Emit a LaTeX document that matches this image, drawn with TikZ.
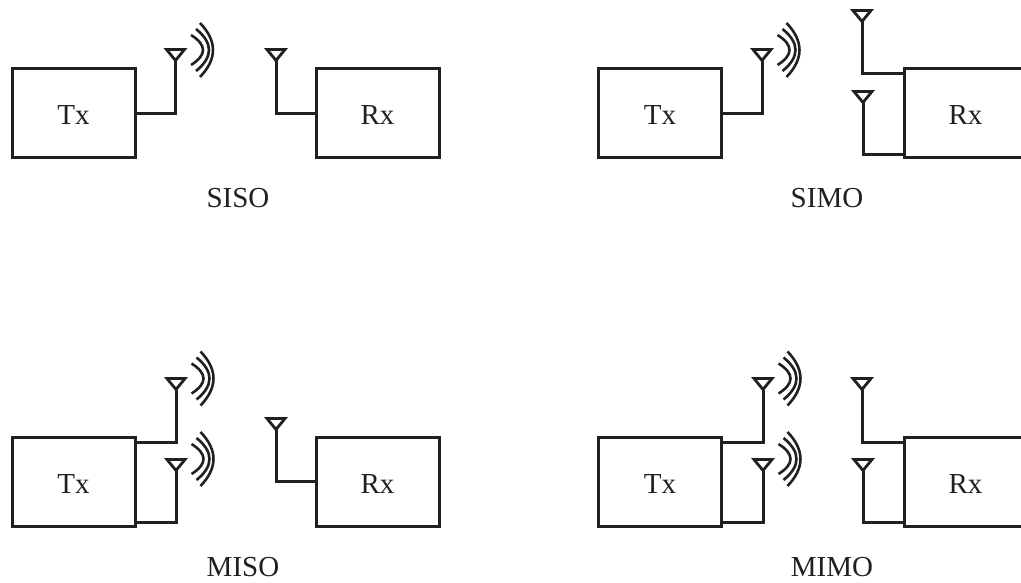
\documentclass[tikz,border=0pt]{standalone}
\usepackage{fontspec}
\setmainfont{Liberation Serif}
\usetikzlibrary{shapes.geometric, positioning}
\definecolor{ink}{HTML}{231F20}

\begin{document}
\begin{tikzpicture}[
   x=1pt, y=-1pt,
   every node/.style={text=ink},
   unit/.style={
     draw=ink,
     line width=3pt,
     rectangle,
     inner sep=0pt,
     outer sep=0pt,
     minimum width=123pt,
     minimum height=89pt,
     text height=23pt,
     text depth=0pt,
     font=\fontsize{29}{29}\selectfont,
    },
   ant/.style={
     draw=ink,
     line width=2.8pt,
     isosceles triangle,
     isosceles triangle stretches,
     shape border rotate=-90,
     inner sep=0pt,
     outer sep=0pt,
     minimum width=18pt,
     minimum height=11pt,
     anchor=apex,
    },
   wire/.style={
     draw=ink,
     line width=3pt,
    },
   tag/.style={
     font=\fontsize{29}{29}\selectfont,
    },
   waves/.pic={
     \draw[ink, line width=2.6pt]
       (15.5,-15) .. controls (31.5,-5) and (31.5,5) .. (15.5,15);
     \draw[ink, line width=2.6pt]
       (20.5,-21) .. controls (37.8,-7) and (37.8,7) .. (20.5,21);
     \draw[ink, line width=2.6pt]
       (24.5,-27) .. controls (41.8,-9) and (41.8,9) .. (24.5,27);
    },
  ]

\clip (0,0) rectangle (1021,583);

% SISO
\node[unit] (Tx) at (73.5,113.5) {Tx};
\node[unit] (Rx) at (377.5,113.5) {Rx};
\node[ant] (At) at (175.5,60.5) {};
\node[ant] (Ar) at (276,60.5) {};
\draw[wire] (Tx.east) -| (At.apex);
\draw[wire] (Rx.west) -| (Ar.apex);
\pic at (175.5,50) {waves};
\node[tag] (L) at (238,198) {SISO};

% SIMO
\begin{scope}[shift={(586.5,0)}]
\node[unit] (Tx) at (73.5,113.5) {Tx};
\node[unit] (Rx) at (379,113.5) {Rx};
\node[ant] (At) at (175.5,60.5) {};
\node[ant] (Ar) at (275.5,21.5) {};
\node[ant] (Br) at (276.5,102.5) {};
\coordinate (Pa) at (317.5,74);
\coordinate (Pb) at (317.5,155);
\draw[wire] (Tx.east) -| (At.apex);
\draw[wire] (Pa) -| (Ar.apex);
\draw[wire] (Pb) -| (Br.apex);
\pic at (175.5,50) {waves};
\node[tag] (L) at (240.5,198) {SIMO};
\end{scope}

% MISO
\begin{scope}[shift={(0,368)}]
\node[unit] (Tx) at (73.5,113.5) {Tx};
\node[unit] (Rx) at (377.5,113.5) {Rx};
\node[ant] (At) at (176,21.5) {};
\node[ant] (Bt) at (176,102.5) {};
\node[ant] (Ar) at (276,61.5) {};
\coordinate (Pa) at (135,74);
\coordinate (Pb) at (135,154);
\draw[wire] (Pa) -| (At.apex);
\draw[wire] (Pb) -| (Bt.apex);
\draw[wire] (Rx.west) -| (Ar.apex);
\pic at (176,10.5) {waves};
\pic at (176,91) {waves};
\node[tag] (L) at (243,199) {MISO};
\end{scope}

% MIMO
\begin{scope}[shift={(586.5,368)}]
\node[unit] (Tx) at (73.5,113.5) {Tx};
\node[unit] (Rx) at (379,113.5) {Rx};
\node[ant] (At) at (176.5,21.5) {};
\node[ant] (Bt) at (176.5,102.5) {};
\node[ant] (Ar) at (275.5,21.5) {};
\node[ant] (Br) at (276.5,102.5) {};
\coordinate (Pa) at (135.5,74);
\coordinate (Pb) at (135.5,154);
\coordinate (Qa) at (317.5,74);
\coordinate (Qb) at (317.5,154);
\draw[wire] (Pa) -| (At.apex);
\draw[wire] (Pb) -| (Bt.apex);
\draw[wire] (Qa) -| (Ar.apex);
\draw[wire] (Qb) -| (Br.apex);
\pic at (176.5,10.5) {waves};
\pic at (176.5,91) {waves};
\node[tag] (L) at (245.5,199) {MIMO};
\end{scope}
\end{tikzpicture}
\end{document}
